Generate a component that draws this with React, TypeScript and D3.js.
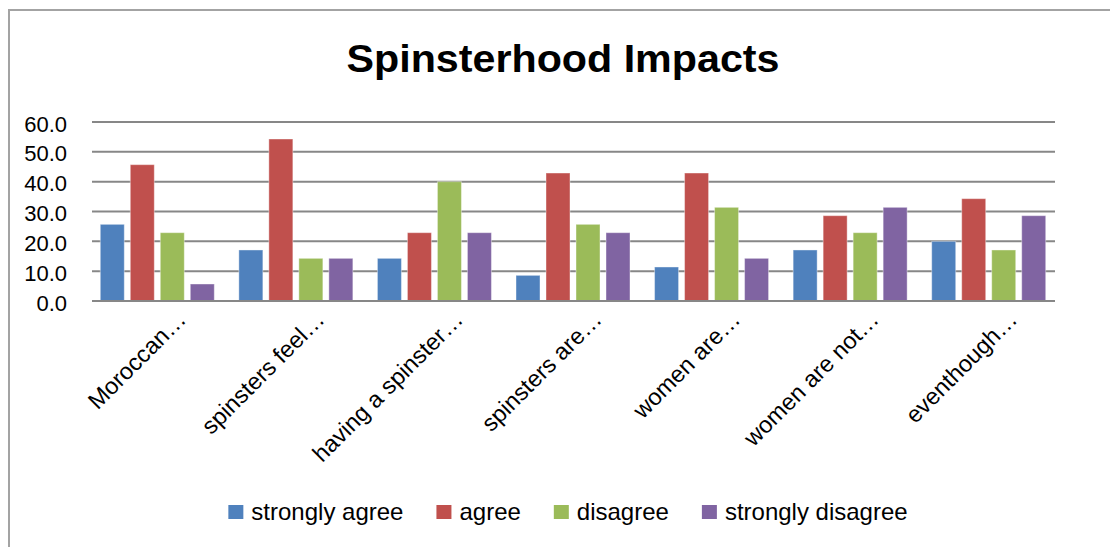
import React, { useMemo } from "react";
import * as d3 from "d3";

const title = "Spinsterhood Impacts";
const categories = [
  "Moroccan…",
  "spinsters feel…",
  "having a spinster…",
  "spinsters are…",
  "women are…",
  "women are not…",
  "eventhough…",
];
const seriesNames = ["strongly agree", "agree", "disagree", "strongly disagree"];
const seriesColors = ["#4F81BD", "#C0504D", "#9BBB59", "#8064A2"];
const stronglyAgree = [25.7, 17.1, 14.3, 8.6, 11.4, 17.1, 20.0];
const agree = [45.7, 54.3, 22.9, 42.9, 42.9, 28.6, 34.3];
const disagree = [22.9, 14.3, 40.0, 25.7, 31.4, 22.9, 17.1];
const stronglyDisagree = [5.7, 14.3, 22.9, 22.9, 14.3, 31.4, 28.6];
const yTicks = [0, 10, 20, 30, 40, 50, 60];

const seriesValues = [stronglyAgree, agree, disagree, stronglyDisagree];

const FONT = "'Liberation Sans', Arial, sans-serif";

function measure(text: string, font: string): number {
  const c = document.createElement("canvas");
  const ctx = c.getContext("2d");
  if (!ctx) return text.length * 10;
  ctx.font = font;
  return ctx.measureText(text).width;
}

export default function App() {
  const W = 1110;
  const H = 547;
  const x = d3
    .scaleBand<string>()
    .domain(categories)
    .range([88, 1058])
    .paddingInner(0.134)
    .paddingOuter(0.067);
  const xs = d3
    .scaleBand<string>()
    .domain(seriesNames)
    .range([0, x.bandwidth()]);
  const y = d3.scaleLinear().domain([0, 60]).range([301, 122]);
  const gridX0 = 92;
  const gridX1 = 1055;

  const legendFontSize = 24;
  const legendLayout = useMemo(() => {
    const sq = 15;
    const gapText = 8;
    const gapItem = 33;
    const widths = seriesNames.map((s) =>
      measure(s, `${legendFontSize}px ${FONT}`)
    );
    const total =
      widths.reduce((a, b) => a + b, 0) +
      seriesNames.length * (sq + gapText) +
      (seriesNames.length - 1) * gapItem;
    let cx = 568 - total / 2;
    return seriesNames.map((s, i) => {
      const item = { x: cx, w: widths[i] };
      cx += sq + gapText + widths[i] + gapItem;
      return item;
    });
  }, []);

  return (
    <svg
      width={W}
      height={H}
      style={{ position: "absolute", left: 0, top: 0, background: "#fff" }}
      fontFamily={FONT}
    >
      <rect x={0} y={0} width={W} height={H} fill="#fff" />
      <rect
        x={9}
        y={10}
        width={1200}
        height={700}
        fill="#fff"
        stroke="#a3a3a3"
        strokeWidth={2}
      />
      <text
        x={563}
        y={72}
        textAnchor="middle"
        fontSize={38}
        fontWeight="bold"
        textLength={433}
        lengthAdjust="spacingAndGlyphs"
        fill="#000"
      >
        {title}
      </text>

      {yTicks.map((t) => (
        <g key={t}>
          <line
            x1={gridX0}
            x2={gridX1}
            y1={y(t)}
            y2={y(t)}
            stroke="#878787"
            strokeWidth={2}
          />
          <text
            x={67}
            y={y(t) + 2}
            textAnchor="end"
            dominantBaseline="central"
            fontSize={22}
            fill="#000"
          >
            {t.toFixed(1)}
          </text>
        </g>
      ))}

      {categories.map((c, ci) => (
        <g key={c} transform={`translate(${x(c)},0)`}>
          {seriesNames.map((s, si) => {
            const v = seriesValues[si][ci];
            const bx = (xs(s) as number) + 3;
            const bw = xs.bandwidth() - 6;
            return (
              <rect
                key={s}
                x={bx}
                y={y(v)}
                width={bw}
                height={y(0) - y(v)}
                fill={seriesColors[si]}
                stroke="#fff"
                strokeOpacity={0.4}
                strokeWidth={1}
              />
            );
          })}
        </g>
      ))}
      <line
        x1={gridX0}
        x2={gridX1}
        y1={y(0)}
        y2={y(0)}
        stroke="#878787"
        strokeWidth={2}
      />

      {categories.map((c) => {
        const cx = (x(c) as number) + x.bandwidth() / 2;
        return (
          <text
            key={c}
            transform={`translate(${cx + 30},${321}) rotate(-45)`}
            textAnchor="end"
            fontSize={23.5}
            fill="#000"
          >
            {c}
          </text>
        );
      })}

      {seriesNames.map((s, i) => (
        <g key={s} transform={`translate(${legendLayout[i].x},0)`}>
          <rect x={0} y={505} width={15} height={14} fill={seriesColors[i]} />
          <text x={23} y={520} fontSize={legendFontSize} fill="#000">
            {s}
          </text>
        </g>
      ))}
    </svg>
  );
}
